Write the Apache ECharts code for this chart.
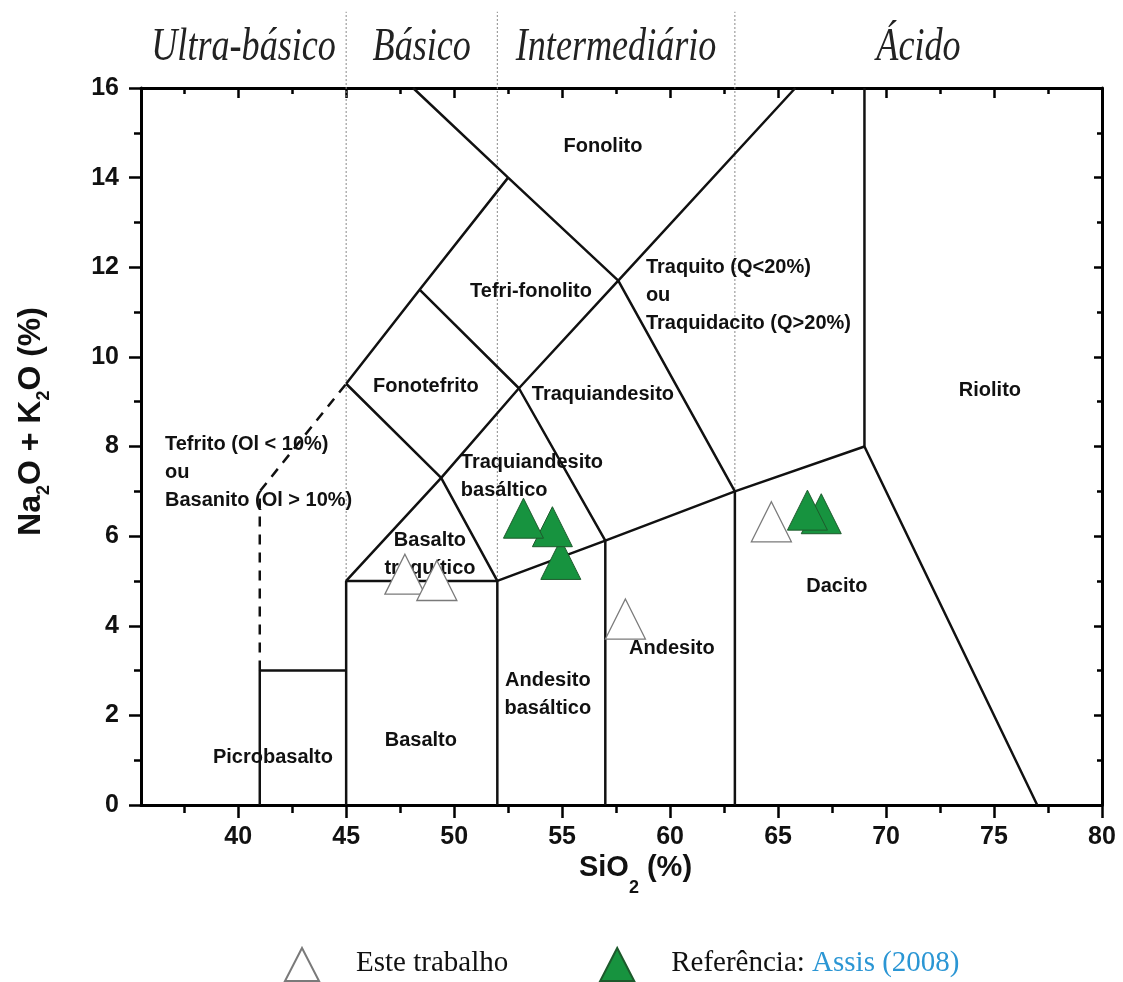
<!DOCTYPE html>
<html>
<head>
<meta charset="utf-8">
<script src="https://cdn.jsdelivr.net/npm/echarts@6/dist/echarts.min.js"></script>
<style>
html,body{margin:0;padding:0;background:#fff;}
#chart{width:1123px;height:982px;}
</style>
</head>
<body>
<div id="chart"></div>
<script>
// ---- axis ticks ----
const xMajorTicks = [40, 45, 50, 55, 60, 65, 70, 75, 80];
const xMinorTicks = [37.5, 42.5, 47.5, 52.5, 57.5, 62.5, 67.5, 72.5, 77.5];
const xRange = [35.5, 80];
const yRange = [0, 16];

// ---- silica class divisions and headers ----
const classDivisions = [45, 52, 63];
const classNames = ['Ultra-básico', 'Básico', 'Intermediário', 'Ácido'];

// ---- TAS field boundaries (SiO2, Na2O+K2O) ----
const boundaryPicro = [[41, 0], [41, 3], [45, 3]];
const boundaryBasalt = [[45, 0], [45, 5], [52, 5], [52, 0]];
const boundarySubalkaline = [[52, 5], [57, 5.9], [63, 7], [69, 8], [77, 0]];
const boundaryAndesite = [[57, 0], [57, 5.9]];
const boundaryDacite = [[63, 0], [63, 7]];
const boundaryRhyolite = [[69, 8], [69, 16]];
const boundaryTrachyLower = [[45, 5], [49.4, 7.3], [53, 9.3], [57.6, 11.7], [65.8, 16]];
const boundaryPhonoLeft = [[45, 9.4], [48.4, 11.5], [52.5, 14]];
const boundaryPhonoRight = [[48.1, 16], [52.5, 14], [57.6, 11.7], [63, 7]];
const boundaryTephrite = [[45, 9.4], [49.4, 7.3], [52, 5]];
const boundaryTrachyAnd = [[48.4, 11.5], [53, 9.3], [57, 5.9]];
const boundaryDashed = [[41, 3], [41, 7], [45, 9.4]];

// ---- field names and their anchor (SiO2, Na2O+K2O) ----
const fieldNames = ['Fonolito', 'Tefri-fonolito', 'Traquito (Q<20%)\nou\nTraquidacito (Q>20%)', 'Fonotefrito',
  'Traquiandesito', 'Riolito', 'Tefrito (Ol < 10%)\nou\nBasanito (Ol > 10%)', 'Traquiandesito\nbasáltico',
  'Basalto\ntraquítico', 'Dacito', 'Andesito', 'Andesito\nbasáltico', 'Basalto', 'Picrobasalto'];
const fieldX = [56.89, 53.56, 58.88, 48.69, 56.89, 74.81, 36.61, 50.31, 48.88, 67.72, 60.08, 54.34, 48.46, 41.61];
const fieldY = [14.69, 11.47, 11.38, 9.35, 9.17, 9.26, 7.43, 7.32, 5.58, 4.87, 3.50, 2.46, 1.43, 1.07];
const fieldAlign = ['center', 'center', 'left', 'center', 'center', 'center', 'left', 'left', 'center', 'center', 'center', 'center', 'center', 'center'];

// ---- samples ----
const esteTrabalhoSiO2 = [47.72, 49.20, 57.93, 64.69];
const esteTrabalhoAlk = [5.15, 5.01, 4.15, 6.32];
const assisSiO2 = [54.94, 54.55, 53.21, 67.00, 66.36];
const assisAlk = [5.48, 6.21, 6.40, 6.50, 6.58];

// ---- build ----
const zip = (a, b) => a.map((v, i) => [v, b[i]]);
const bounds = [xRange[0]].concat(classDivisions, [xRange[1]]);
const headerData = classNames.map((n, i) => [(bounds[i] + bounds[i + 1]) / 2, 16.9]);
const fieldData = fieldNames.map((n, i) => [fieldX[i], fieldY[i]]);

const solidBoundaries = [boundaryPicro, boundaryBasalt, boundarySubalkaline, boundaryAndesite, boundaryDacite,
  boundaryRhyolite, boundaryTrachyLower, boundaryPhonoLeft, boundaryPhonoRight, boundaryTephrite, boundaryTrachyAnd];

const series = [];
classDivisions.forEach(x => {
  series.push({type: 'line', data: [[x, 0], [x, 17.7]], symbol: 'none', clip: false, silent: true, z: 1,
    lineStyle: {color: '#8a8a8a', width: 1, type: [2, 2]}});
});
solidBoundaries.forEach(b => {
  series.push({type: 'line', data: b, symbol: 'none', silent: true, z: 2,
    lineStyle: {color: '#111', width: 2.5}});
});
series.push({type: 'line', data: boundaryDashed, symbol: 'none', silent: true, z: 2,
  lineStyle: {color: '#111', width: 2.5, type: [10, 8]}});

series.push({
  type: 'custom', data: headerData, silent: true, z: 3, clip: false,
  renderItem: (params, api) => {
    const p = api.coord([api.value(0), api.value(1)]);
    return {type: 'text', x: p[0], y: p[1], scaleX: 0.86, scaleY: 1.08,
      style: {text: classNames[params.dataIndex], fontFamily: 'Liberation Serif', fontStyle: 'italic',
        fontSize: 42, fill: '#222', align: 'center', verticalAlign: 'middle'}};
  }
});
series.push({
  type: 'custom', data: fieldData, silent: true, z: 3, clip: false,
  renderItem: (params, api) => {
    const p = api.coord([api.value(0), api.value(1)]);
    return {type: 'text', x: p[0], y: p[1],
      style: {text: fieldNames[params.dataIndex], fontFamily: 'Liberation Sans', fontWeight: 'bold',
        fontSize: 20, lineHeight: 28, fill: '#111', align: fieldAlign[params.dataIndex], verticalAlign: 'middle'}};
  }
});
series.push({name: 'Este trabalho', type: 'scatter', data: zip(esteTrabalhoSiO2, esteTrabalhoAlk),
  symbol: 'triangle', symbolSize: 40, z: 5,
  itemStyle: {color: '#ffffff', borderColor: '#7a7a7a', borderWidth: 1.3, opacity: 1}});
series.push({name: 'Referência', type: 'scatter', data: zip(assisSiO2, assisAlk),
  symbol: 'triangle', symbolSize: 40, z: 5,
  itemStyle: {color: '#17933f', borderColor: '#1d5a2c', borderWidth: 1, opacity: 1}});

const axisLab = {color: '#111', fontFamily: 'Liberation Sans', fontWeight: 'bold', fontSize: 25};
const blk = {color: '#000', width: 3};
const tk = {color: '#000', width: 2.5};
const subX = {fontFamily: 'Liberation Sans', fontWeight: 'bold', fontSize: 18, padding: [40, 0, 0, 0], color: '#111'};
const subY = {fontFamily: 'Liberation Sans', fontWeight: 'bold', fontSize: 18, padding: [26, 0, 0, 0], color: '#111'};

const option = {
  animation: false,
  backgroundColor: '#fff',
  grid: {left: 141, right: 21, top: 88, bottom: 177, containLabel: false},
  xAxis: [
    {type: 'value', min: xRange[0], max: xRange[1], position: 'bottom',
      axisLine: {lineStyle: blk}, splitLine: {show: false},
      axisTick: {customValues: xMajorTicks, length: 13, lineStyle: tk},
      axisLabel: Object.assign({customValues: xMajorTicks, margin: 20}, axisLab),
      name: 'SiO{sub|2} (%)', nameLocation: 'middle', nameGap: 34, nameMoveOverlap: false,
      nameTextStyle: {color: '#111', fontFamily: 'Liberation Sans', fontWeight: 'bold', fontSize: 29,
        padding: [0, 0, 0, 28], rich: {sub: subX}}},
    {type: 'value', min: xRange[0], max: xRange[1], position: 'bottom',
      axisLine: {show: false}, splitLine: {show: false},
      axisTick: {customValues: xMinorTicks, length: 8, lineStyle: tk}, axisLabel: {show: false}},
    {type: 'value', min: xRange[0], max: xRange[1], position: 'top',
      axisLine: {lineStyle: blk}, splitLine: {show: false},
      axisTick: {customValues: xMajorTicks, length: 10, inside: true, lineStyle: tk}, axisLabel: {show: false}},
    {type: 'value', min: xRange[0], max: xRange[1], position: 'top',
      axisLine: {show: false}, splitLine: {show: false},
      axisTick: {customValues: xMinorTicks, length: 6, inside: true, lineStyle: tk}, axisLabel: {show: false}}
  ],
  yAxis: [
    {type: 'value', min: yRange[0], max: yRange[1], interval: 2, position: 'left',
      axisLine: {lineStyle: blk}, splitLine: {show: false},
      axisTick: {length: 12, lineStyle: tk},
      minorTick: {show: true, splitNumber: 2, length: 7, lineStyle: tk},
      axisLabel: Object.assign({margin: 22}, axisLab),
      name: 'Na{sub|2}O + K{sub|2}O (%)', nameLocation: 'middle', nameGap: 88, nameRotate: 90,
      nameTextStyle: {color: '#111', fontFamily: 'Liberation Sans', fontWeight: 'bold', fontSize: 32,
        padding: [0, 0, 0, 50], rich: {sub: subY}}},
    {type: 'value', min: yRange[0], max: yRange[1], interval: 2, position: 'right',
      axisLine: {lineStyle: blk}, splitLine: {show: false},
      axisTick: {length: 8, inside: true, lineStyle: tk},
      minorTick: {show: true, splitNumber: 2, length: 5, lineStyle: tk},
      axisLabel: {show: false}}
  ],
  legend: {
    data: [{name: 'Este trabalho', icon: 'triangle'}, {name: 'Referência', icon: 'triangle'}],
    left: 284, top: 947, padding: 0, itemWidth: 34, itemHeight: 33, itemGap: 91,
    selectedMode: false,
    formatter: name => name === 'Este trabalho' ? '{g|}{t|Este trabalho}' : '{g|}{t|Referência: }{b|Assis (2008)}',
    textStyle: {
      rich: {
        g: {width: 32},
        t: {fontFamily: 'Liberation Serif', fontSize: 29, color: '#111', padding: [0, 0, 2, 0]},
        b: {fontFamily: 'Liberation Serif', fontSize: 29, color: '#2b96d4', padding: [0, 0, 2, 0]}
      }
    }
  },
  series: series
};

const chart = echarts.init(document.getElementById('chart'), null, {renderer: 'canvas'});
chart.setOption(option);
</script>
</body>
</html>
